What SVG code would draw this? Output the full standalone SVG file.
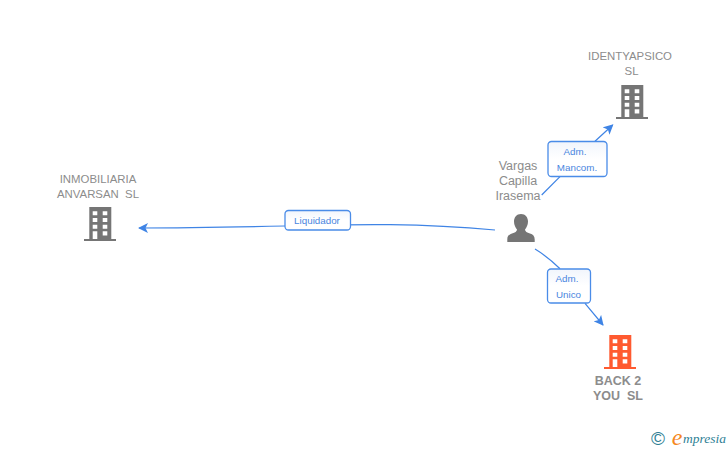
<svg xmlns="http://www.w3.org/2000/svg" width="728" height="450" viewBox="0 0 728 450">
<style>
text{font-family:"Liberation Sans",Arial,sans-serif;text-anchor:middle;white-space:pre}
.n{font-size:11.400px;fill:#8c8c8c}
.b{font-size:12.500px;font-weight:bold;fill:#8c8c8c}
.p{font-size:12.500px;fill:#8c8c8c}
.l{font-size:9.800px;fill:#4a86e0}
.e{fill:none;stroke:#3f84e5;stroke-width:1.2}
.r{fill:#fff;stroke:#4a8ce8;stroke-width:1.3}
</style>
<defs>
<linearGradient id="lg" x1="0" y1="0" x2="0" y2="1"><stop offset="0" stop-color="#f1f5fc"/><stop offset="0.5" stop-color="#fff"/></linearGradient>
<marker id="a" viewBox="0 0 10 10" refX="9" refY="5" markerWidth="10" markerHeight="10" markerUnits="userSpaceOnUse" orient="auto"><path d="M0 0L10 5L0 10L2.5 5Z" fill="#3f84e5"/></marker>
<path id="bld" fill-rule="evenodd" d="M5.300 0H27.300V32H32V34H0V32H5.300ZM8.700 4.300V8.300H13.300V4.300ZM18.700 4.300V8.300H23.300V4.300ZM8.700 11V15H13.300V11ZM18.700 11V15H23.300V11ZM8.700 17.700V21.700H13.300V17.700ZM18.700 17.700V21.700H23.300V17.700ZM8.700 24.300V32H13.300V24.300ZM18.700 24.300V28.600H23.300V24.300Z"/>
</defs>
<rect width="728" height="450" fill="#fff"/>
<g id="connectors">
<path class="e" d="M495 230C420 223 360 224 285 226C240 227 190 228 139 228" marker-end="url(#a)"/>
<path class="e" d="M541.700 195L560 176.700M595 141.300L612.700 125" marker-end="url(#a)"/>
<path class="e" d="M535 249C545 255 553 262 560 268.700M585 303.300L603 325" marker-end="url(#a)"/>
</g>
<g id="edge-label-liquidador">
<rect class="r" x="285" y="210.500" width="65.500" height="19.500" rx="3.500" style="fill:url(#lg)"/>
<text class="l" x="317" y="224">Liquidador</text>
</g>
<g id="edge-label-mancom">
<rect class="r" x="548" y="141.500" width="59" height="35" rx="3.500" style="fill:url(#lg)"/>
<text class="l" x="575" y="154.500">Adm.</text>
<text class="l" x="577" y="170.500">Mancom.</text>
</g>
<g id="edge-label-unico">
<rect class="r" x="547.500" y="269" width="43" height="34" rx="3.500" style="fill:url(#lg)"/>
<text class="l" x="567" y="282">Adm.</text>
<text class="l" x="568.500" y="297.500">Unico</text>
</g>
<g id="node-identyapsico">
<text class="n" x="630" y="60">IDENTYAPSICO</text>
<text class="n" x="631.500" y="75">SL</text>
<use href="#bld" x="616" y="85" fill="#757575"/>
</g>
<g id="node-inmobiliaria">
<text class="n" x="98" y="183">INMOBILIARIA</text>
<text class="n" x="98" y="198">ANVARSAN  SL</text>
<use href="#bld" x="84" y="207" fill="#757575"/>
</g>
<g id="node-vargas">
<text class="p" x="518" y="170">Vargas</text>
<text class="p" x="518" y="185">Capilla</text>
<text class="p" x="518" y="200">Irasema</text>
<path d="M521 214C525.500 214 528 217.500 528 221.500C528 225 526.500 227.500 525 229.500C525 231.500 527 232.500 530 233.500C533 234.500 534.700 236 534.700 239.500V242H507.300V239.500C507.300 236 509 234.500 512 233.500C515 232.500 517 231.500 517 229.500C515.500 227.500 514 225 514 221.500C514 217.500 516.500 214 521 214Z" fill="#757575"/>
</g>
<g id="node-back2you">
<use href="#bld" x="604" y="335" fill="#ff5a30"/>
<text class="b" x="618" y="385">BACK 2</text>
<text class="b" x="618" y="400">YOU  SL</text>
</g>
<g id="logo">
<text x="658" y="445" style="font-size:19px;fill:#2f7f95">©</text>
<text x="677" y="445" style="font-family:'Liberation Serif',serif;font-style:italic;font-size:24px;fill:#f5881f">e</text>
<text x="704.500" y="443" style="font-family:'Liberation Serif',serif;font-style:italic;font-size:13.500px;fill:#2f7f95">mpresia</text>
</g>
</svg>
